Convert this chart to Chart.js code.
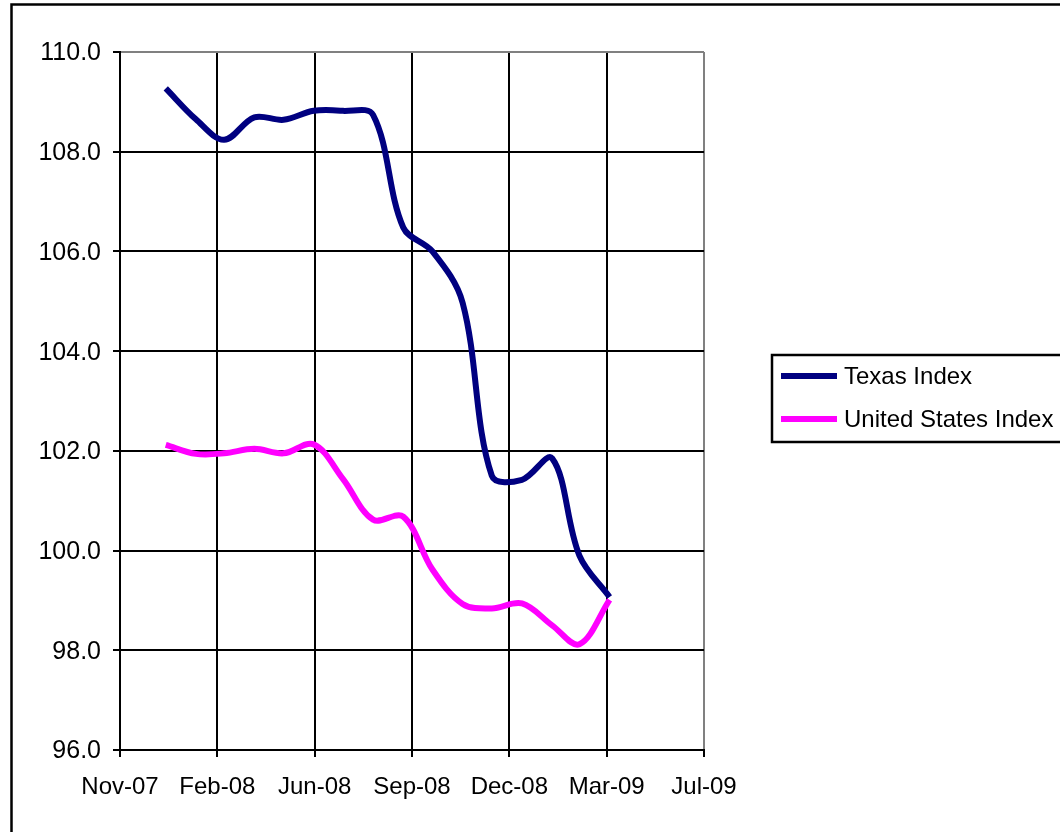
<!DOCTYPE html>
<html><head><meta charset="utf-8">
<script src="https://cdn.jsdelivr.net/npm/chart.js@4/dist/chart.umd.min.js"></script>
<style>html,body{margin:0;padding:0;background:#fff;} canvas{display:block;}</style>
</head><body>
<canvas id="c" width="1060" height="832"></canvas>
<script>
// ---- data ----
const axisStartDate = '2007-11-15';
const dates = ['2008-01-01','2008-02-01','2008-03-01','2008-04-01','2008-05-01','2008-06-01','2008-07-01','2008-08-01',
               '2008-09-01','2008-10-01','2008-11-01','2008-12-01','2009-01-01','2009-02-01','2009-03-01','2009-04-01'];
const texasIndex = [109.27,108.65,108.24,108.69,108.64,108.82,108.82,108.74,106.48,106.0,104.97,101.5,101.42,101.85,99.9,99.07];
const usIndex    = [102.12,101.94,101.95,102.04,101.95,102.13,101.44,100.62,100.68,99.62,98.93,98.84,98.94,98.5,98.12,99.01];
const xTickLabels = ['Nov-07','Feb-08','Jun-08','Sep-08','Dec-08','Mar-09','Jul-09'];
const yTickValues = [96,98,100,102,104,106,108,110];
const seriesNames = ['Texas Index','United States Index'];
const seriesColors = ['#000080','#FF00FF'];
const xStepDays = 100;

const DAY = 864e5;
const start = Date.parse(axisStartDate);
const toPoints = vals => vals.map((v,i)=>({x:(Date.parse(dates[i])-start)/DAY, y:v}));

const FONT = '"Liberation Sans", Arial, sans-serif';

const framePlugin = {
  id:'frame',
  beforeDraw(chart){
    const ctx = chart.ctx;
    ctx.save();
    ctx.fillStyle = '#fff';
    ctx.fillRect(0,0,chart.width,chart.height);
    ctx.strokeStyle = '#000';
    ctx.lineWidth = 2.5;
    ctx.strokeRect(11.5,4.5,2000,2000);
    ctx.restore();
  },
  afterDraw(chart){
    const ctx = chart.ctx;
    ctx.save();
    ctx.fillStyle = '#fff';
    ctx.fillRect(772,355,400,87);
    ctx.strokeStyle = '#000';
    ctx.lineWidth = 2.5;
    ctx.strokeRect(772,355,400,87);
    const ys = [376,419];
    chart.data.datasets.forEach((ds,i)=>{
      ctx.strokeStyle = ds.borderColor;
      ctx.lineWidth = 6;
      ctx.beginPath();
      ctx.moveTo(781,ys[i]);
      ctx.lineTo(837,ys[i]);
      ctx.stroke();
      ctx.fillStyle = '#000';
      ctx.font = '24px ' + FONT;
      ctx.textBaseline = 'middle';
      ctx.textAlign = 'left';
      ctx.fillText(ds.label,844,ys[i]+1);
    });
    ctx.restore();
  }
};

new Chart(document.getElementById('c'), {
  type:'line',
  data:{
    datasets:[
      {label:seriesNames[0], data:toPoints(texasIndex), borderColor:seriesColors[0], borderWidth:6, pointRadius:0, tension:0.35, fill:false, order:1, borderCapStyle:'butt'},
      {label:seriesNames[1], data:toPoints(usIndex), borderColor:seriesColors[1], borderWidth:6, pointRadius:0, tension:0.35, fill:false, order:0, borderCapStyle:'butt'}
    ]
  },
  options:{
    responsive:false,
    animation:false,
    devicePixelRatio:1,
    layout:{padding:{top:52,right:356,bottom:0,left:0}},
    plugins:{legend:{display:false},tooltip:{enabled:false}},
    scales:{
      x:{
        type:'linear',
        min:0, max:(xTickLabels.length-1)*xStepDays,
        afterFit(s){ s.height = 82; },
        ticks:{stepSize:xStepDays, autoSkip:false, maxRotation:0, padding:16, color:'#000',
               font:{family:FONT,size:24},
               callback:v=>xTickLabels[Math.round(v/xStepDays)]},
        grid:{color:c=>(c.tick && c.tick.value===(xTickLabels.length-1)*xStepDays)?'#808080':'#000',
              lineWidth:2, tickLength:7, tickColor:'#000', drawTicks:true},
        border:{display:true,color:'#000',width:2}
      },
      y:{
        min:yTickValues[0], max:yTickValues[yTickValues.length-1],
        afterFit(s){ s.width = 120; },
        afterBuildTicks(s){ s.ticks = yTickValues.map(v=>({value:v})); },
        ticks:{padding:12, labelOffset:1.5, color:'#000', font:{family:FONT,size:25}, callback:v=>Number(v).toFixed(1)},
        grid:{color:c=>(c.tick && c.tick.value===yTickValues[yTickValues.length-1])?'#808080':'#000',
              lineWidth:2, tickLength:7, tickColor:'#000', drawTicks:true},
        border:{display:true,color:'#000',width:2}
      }
    }
  },
  plugins:[framePlugin]
});
</script>
</body></html>
